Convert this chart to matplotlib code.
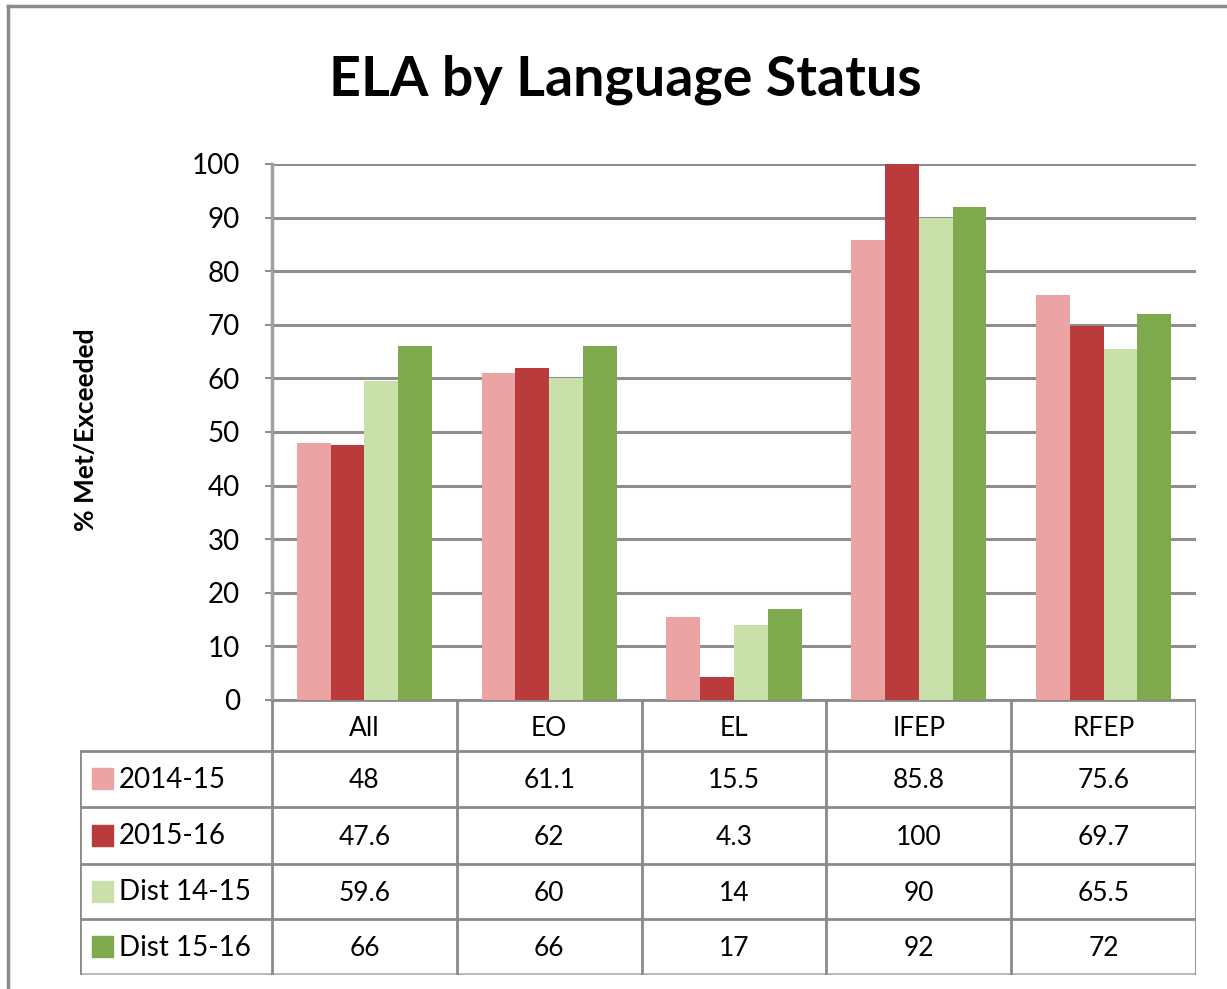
import matplotlib
matplotlib.use("Agg")
import matplotlib.pyplot as plt
import numpy as np

plt.rcParams['font.family'] = ['Lato', 'DejaVu Sans']

categories = ['All', 'EO', 'EL', 'IFEP', 'RFEP']
series_names = ['2014-15', '2015-16', 'Dist 14-15', 'Dist 15-16']
v_2014_15 = [48, 61.1, 15.5, 85.8, 75.6]
v_2015_16 = [47.6, 62, 4.3, 100, 69.7]
v_dist_14_15 = [59.6, 60, 14, 90, 65.5]
v_dist_15_16 = [66, 66, 17, 92, 72]
labels_2014_15 = ['48', '61.1', '15.5', '85.8', '75.6']
labels_2015_16 = ['47.6', '62', '4.3', '100', '69.7']
labels_dist_14_15 = ['59.6', '60', '14', '90', '65.5']
labels_dist_15_16 = ['66', '66', '17', '92', '72']

series = [v_2014_15, v_2015_16, v_dist_14_15, v_dist_15_16]
cell_text = [labels_2014_15, labels_2015_16, labels_dist_14_15, labels_dist_15_16]
colors = ['#eba3a3', '#b93b3b', '#c9e0aa', '#7ea94c']
grid_col = '#8e8e8e'

W, H = 1227, 989
fig = plt.figure(figsize=(12.27, 9.89), dpi=100)

# outer chart border (only left and top show in the crop)
border = fig.add_axes([8 / W, -0.1, 1.2, 1.1 - 6 / H])
border.set_xticks([])
border.set_yticks([])
for s in border.spines.values():
    s.set_color('#8a8a8a')
    s.set_linewidth(2.5)
border.patch.set_alpha(0)

x0, x1, y_top, y_zero = 272, 1196, 164, 700
ax = fig.add_axes([x0 / W, 1 - y_zero / H, (x1 - x0) / W, (y_zero - y_top) / H])

x = np.arange(len(categories))
bw = 0.183
for i, vals in enumerate(series):
    ax.bar(x + (i - 1.5) * bw, vals, bw, color=colors[i], zorder=3)

ax.set_xlim(-0.5, len(categories) - 0.5)
ax.set_ylim(0, 100)
ax.set_yticks(range(0, 101, 10))
ax.set_xticks([])
ax.yaxis.grid(True, color=grid_col, linewidth=2.2, zorder=0)
ax.tick_params(axis='y', length=5, width=1.5, color=grid_col, pad=18, labelsize=20)
for s in ['top', 'right', 'bottom']:
    ax.spines[s].set_visible(False)
ax.spines['left'].set_color('#a0a0a0')
ax.spines['left'].set_linewidth(2.5)

fig.text(86 / W, 1 - 430 / H, '% Met/Exceeded', fontsize=19, fontweight='bold',
         rotation=90, ha='center', va='center')
fig.text(625 / W, 1 - 80 / H, 'ELA by Language Status', fontsize=40,
         fontweight='bold', ha='center', va='center')

# data table under the plot
tx0, ty0, ty1 = 80, 700, 975
tab = fig.add_axes([tx0 / W, 1 - ty1 / H, (x1 - tx0) / W, (ty1 - ty0) / H])
tab.set_xlim(tx0, x1)
tab.set_ylim(ty1, ty0)
tab.axis('off')

row_edges = [700, 751, 807, 864, 919, 975]
col_w = (x1 - x0) / len(categories)
col_edges = [x0 + k * col_w for k in range(len(categories) + 1)]
lc = '#8a8a8a'
lw = 2
tab.plot([x0, x1], [row_edges[0], row_edges[0]], color=lc, lw=lw)
for yy in row_edges[1:-1]:
    tab.plot([tx0, x1], [yy, yy], color=lc, lw=lw)
tab.plot([tx0, x1], [row_edges[-1], row_edges[-1]], color='#b8b8b8', lw=3.5)
tab.plot([tx0, tx0], [row_edges[1], row_edges[-1]], color=lc, lw=lw)
for xx in col_edges:
    tab.plot([xx, xx], [row_edges[0], row_edges[-1]], color=lc, lw=lw)

for j, cat in enumerate(categories):
    cx = (col_edges[j] + col_edges[j + 1]) / 2
    tab.text(cx, (row_edges[0] + row_edges[1]) / 2 + 3, cat, ha='center',
             va='center', fontsize=19)
    for i in range(len(series)):
        cy = (row_edges[i + 1] + row_edges[i + 2]) / 2 + 2
        tab.text(cx, cy, cell_text[i][j], ha='center', va='center', fontsize=19)

for i, name in enumerate(series_names):
    cy = (row_edges[i + 1] + row_edges[i + 2]) / 2
    tab.add_patch(plt.Rectangle((92, cy - 11), 21, 21, color=colors[i]))
    tab.text(119, cy + 1, name, ha='left', va='center', fontsize=20)

fig.savefig('out.png', dpi=100)
